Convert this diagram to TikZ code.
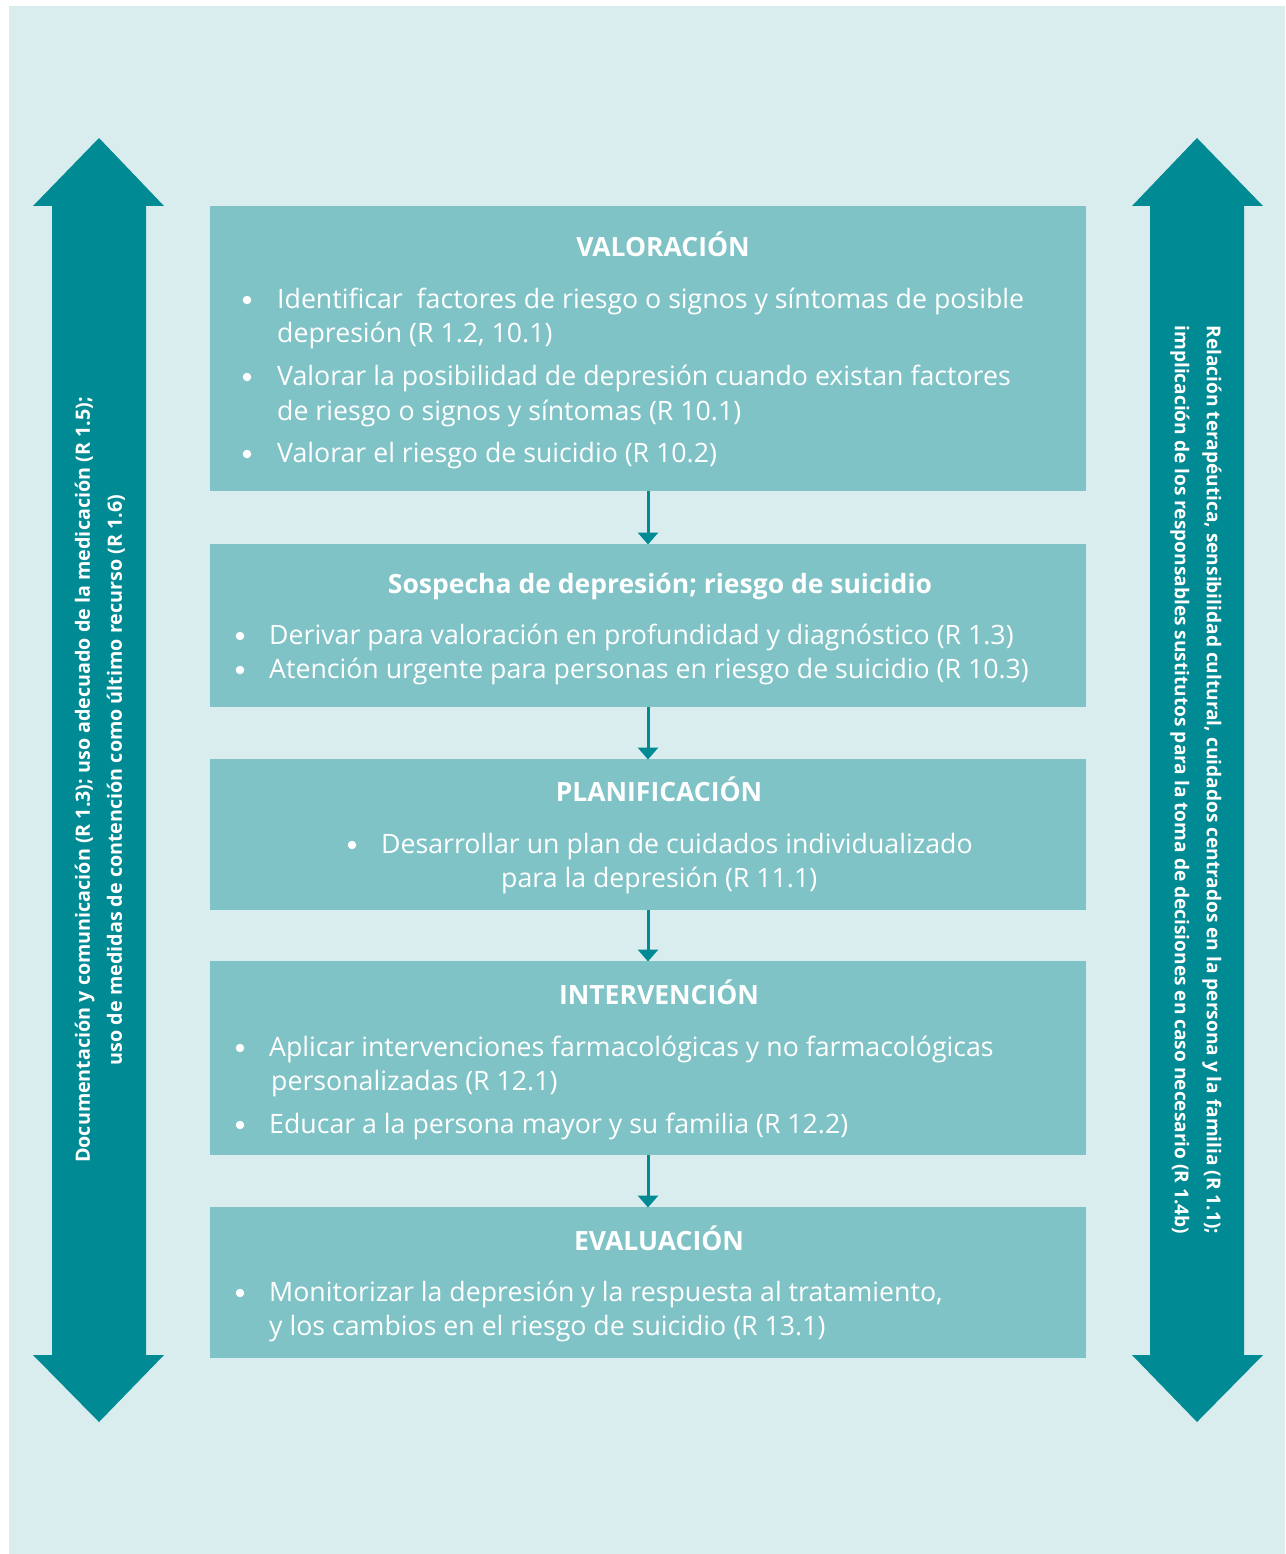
\documentclass[tikz,border=0pt]{standalone}
\usepackage{fontspec}
\setmainfont{Open Sans}
\usetikzlibrary{arrows.meta}
\definecolor{bgc}{HTML}{D9ECEE}
\definecolor{boxc}{HTML}{80C3C7}
\definecolor{darkc}{HTML}{008A93}
\tikzset{
  stagebox/.style={fill=boxc, draw=none},
  bigarrow/.style={fill=darkc, draw=none},
  flow/.style={draw=darkc, line width=3pt, -{Triangle[width=20pt,length=12pt]}, shorten >=-0.5pt},
  ttl/.style={anchor=base, text=white, font=\fontsize{26.5}{34}\selectfont\bfseries, inner sep=0pt},
  txt/.style={anchor=base west, text=white, font=\fontsize{26.7}{34}\selectfont, inner sep=0pt},
  bul/.style={circle, fill=white, draw=none, minimum size=8.5pt, inner sep=0pt},
  side/.style={text=white, font=\fontsize{19.5}{32}\selectfont\bfseries, align=center, inner sep=0pt}
}
\begin{document}
\begin{tikzpicture}[x=1pt,y=-1pt]
\useasboundingbox (0,0) rectangle (1285,1554);
\fill[white] (0,0) rectangle (1285,1554);
\fill[bgc] (9,6) rectangle (1285,1554);
% big arrows
\fill[bigarrow] (99,138) -- (164,206) -- (146,206) -- (146,1355) -- (164,1355) -- (99,1422) -- (33,1355) -- (52,1355) -- (52,206) -- (33,206) -- cycle;
\fill[bigarrow] (1197,138) -- (1263,206) -- (1244,206) -- (1244,1355) -- (1263,1355) -- (1197,1422) -- (1132,1355) -- (1150,1355) -- (1150,206) -- (1132,206) -- cycle;
\node[side, rotate=90, font=\fontsize{19.7}{32}\selectfont\bfseries] (lefttext) at (100,780) {Documentación y comunicación (R 1.3); uso adecuado de la medicación (R 1.5);\\uso de medidas de contención como último recurso (R 1.6)};
\node[side, rotate=-90, font=\fontsize{19.1}{32}\selectfont\bfseries] (righttext) at (1196,780) {Relación terapéutica, sensibilidad cultural, cuidados centrados en la persona y la familia (R 1.1);\\implicación de los responsables sustitutos para la toma de decisiones en caso necesario (R 1.4b)};
% boxes
\path[stagebox] (210,206) rectangle (1086,491);
\coordinate (b1bot) at (648,491);
\path[stagebox] (210,544) rectangle (1086,707);
\coordinate (b2top) at (648,544);
\coordinate (b2bot) at (648,707);
\path[stagebox] (210,759) rectangle (1086,910);
\coordinate (b3top) at (648,759);
\coordinate (b3bot) at (648,910);
\path[stagebox] (210,961) rectangle (1086,1155);
\coordinate (b4top) at (648,961);
\coordinate (b4bot) at (648,1155);
\path[stagebox] (210,1207) rectangle (1086,1358);
\coordinate (b5top) at (648,1207);
\draw[flow] (b1bot) -- (b2top);
\draw[flow] (b2bot) -- (b3top);
\draw[flow] (b3bot) -- (b4top);
\draw[flow] (b4bot) -- (b5top);
% box 1
\node[ttl] (t1) at (663,256) {VALORACIÓN};
\node[bul] (b1a) at (247,300) {};
\node[txt] (l1a) at (277,308) {Identificar\ \ factores de riesgo o signos y síntomas de posible};
\node[txt] (l1b) at (277,342) {depresión (R 1.2, 10.1)};
\node[bul] (b1b) at (247,377) {};
\node[txt] (l1c) at (277,385) {Valorar la posibilidad de depresión cuando existan factores};
\node[txt] (l1d) at (277,420) {de riesgo o signos y síntomas (R 10.1)};
\node[bul] (b1c) at (247,454) {};
\node[txt] (l1e) at (277,462) {Valorar el riesgo de suicidio (R 10.2)};
% box 2
\node[ttl] (t2) at (660,593) {Sospecha de depresión; riesgo de suicidio};
\node[bul] (b2a) at (240,636) {};
\node[txt] (l2a) at (269,644) {Derivar para valoración en profundidad y diagnóstico (R 1.3)};
\node[bul] (b2b) at (240,670) {};
\node[txt] (l2b) at (269,678) {Atención urgente para personas en riesgo de suicidio (R 10.3)};
% box 3
\node[ttl] (t3) at (659,801) {PLANIFICACIÓN};
\node[bul] (b3a) at (352,845) {};
\node[txt] (l3a) at (381,853) {Desarrollar un plan de cuidados individualizado};
\node[txt] (l3b) at (501,887) {para la depresión (R 11.1)};
% box 4
\node[ttl] (t4) at (659,1004) {INTERVENCIÓN};
\node[bul] (b4a) at (240,1048) {};
\node[txt] (l4a) at (269,1056) {Aplicar intervenciones farmacológicas y no farmacológicas};
\node[txt] (l4b) at (271,1090) {personalizadas (R 12.1)};
\node[bul] (b4b) at (240,1125) {};
\node[txt] (l4c) at (269,1133) {Educar a la persona mayor y su familia (R 12.2)};
% box 5
\node[ttl] (t5) at (659,1250) {EVALUACIÓN};
\node[bul] (b5a) at (240,1293) {};
\node[txt] (l5a) at (269,1301) {Monitorizar la depresión y la respuesta al tratamiento,};
\node[txt] (l5b) at (269,1335) {y los cambios en el riesgo de suicidio (R 13.1)};
\end{tikzpicture}
\end{document}
